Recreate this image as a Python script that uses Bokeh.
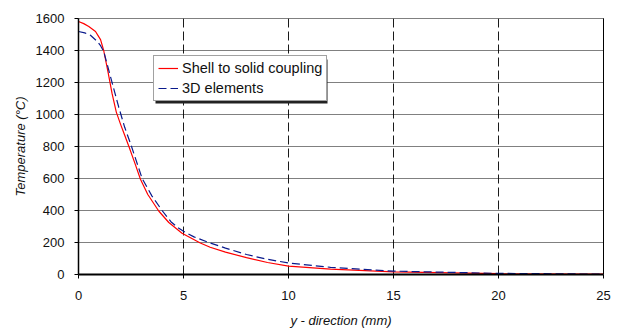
from bokeh.plotting import figure
from bokeh.models import (Legend, LegendItem, LinearAxis, FixedTicker,
                          BoxAnnotation, Range1d)
from bokeh.embed import file_html
from bokeh.resources import INLINE

# Temperature profile across the weld (y - direction, mm)
y_shell = [0, 0.25, 0.49, 0.81, 1.05, 1.2, 1.4, 1.6, 1.8, 2.0, 2.2, 2.4, 2.7,
           2.95, 3.3, 3.82, 4.3, 4.93, 5.8, 6.27, 7, 8, 9, 10, 12, 15, 20, 25]
t_shell = [1581, 1568, 1550, 1519, 1468, 1400, 1270, 1130, 1015, 940, 870, 800,
           690, 595, 500, 397, 325, 258, 197, 170, 140, 105, 75, 52, 33, 17, 5, 2]

y_3d = [0, 0.3, 0.57, 0.89, 1.05, 1.2, 1.6, 1.92, 2.2, 2.5, 3.03, 3.5, 3.98,
        4.4, 4.76, 5.0, 5.5, 6.27, 7, 8, 9, 10, 12, 15, 20, 25]
t_3d = [1519, 1510, 1495, 1457, 1430, 1395, 1199, 1044, 920, 810, 600, 490, 400,
        330, 290, 270, 235, 197, 165, 125, 95, 72, 45, 21, 7, 2]

x_ticks = [0, 5, 10, 15, 20, 25]
y_ticks = [0, 200, 400, 600, 800, 1000, 1200, 1400, 1600]

FONT = "Liberation Sans"

p = figure(frame_width=525, frame_height=256, min_border_left=78,
           min_border_right=21, min_border_top=18, min_border_bottom=55,
           x_range=Range1d(0, 25), y_range=Range1d(0, 1600),
           output_backend="svg", toolbar_location=None,
           background_fill_color="white", border_fill_color="white")
p.outline_line_color = None

# grid: dashed verticals, dotted horizontals
p.xgrid.ticker = FixedTicker(ticks=x_ticks)
p.ygrid.ticker = FixedTicker(ticks=y_ticks)
p.xgrid.grid_line_color = "#1a1a1a"
p.xgrid.grid_line_dash = "9 4"
p.xgrid.grid_line_width = 1
p.ygrid.grid_line_color = "black"
p.ygrid.grid_line_dash = "1 1"
p.ygrid.grid_line_width = 1.2

for ax in (p.xaxis[0], p.yaxis[0]):
    ax.major_label_text_font = FONT
    ax.major_label_text_font_size = "13px"
    ax.major_label_text_color = "#111111"
    ax.axis_label_text_font = FONT
    ax.axis_label_text_font_size = "13px"
    ax.axis_label_text_font_style = "italic"
    ax.axis_label_text_color = "#111111"
    ax.minor_tick_line_color = None
    ax.major_tick_in = 0
    ax.major_tick_out = 4
    ax.major_tick_line_color = "black"
    ax.axis_line_color = "black"

p.xaxis[0].ticker = FixedTicker(ticks=x_ticks)
p.yaxis[0].ticker = FixedTicker(ticks=y_ticks)
p.xaxis[0].axis_line_width = 2
p.yaxis[0].axis_line_width = 1.5
p.xaxis[0].axis_label = "y - direction (mm)"
p.yaxis[0].axis_label = "Temperature (°C)"
p.xaxis[0].major_label_standoff = 12
p.xaxis[0].axis_label_standoff = 10
p.yaxis[0].major_label_standoff = 10
p.yaxis[0].axis_label_standoff = 5


def bare_axis(dash):
    return LinearAxis(ticker=FixedTicker(ticks=[]), major_label_text_font_size="0px",
                      minor_tick_line_color=None, major_tick_line_color=None,
                      axis_line_color="black", axis_line_width=1,
                      axis_line_dash=dash)


# plain right border line, dotted top border
p.add_layout(bare_axis("solid"), "right")
p.add_layout(bare_axis("1 1"), "above")

r_shell = p.line(y_shell, t_shell, line_color="#ff0000", line_width=1.2)
r_3d = p.line(y_3d, t_3d, line_color="#0a1a8c", line_width=1.2,
              line_dash="8 4")

# legend drop shadow (screen units: x from frame left, y from frame bottom)
shadow = BoxAnnotation(left=77, right=249, top=215, bottom=171,
                       left_units="screen", right_units="screen",
                       top_units="screen", bottom_units="screen",
                       fill_color="#222222", fill_alpha=1, line_color=None)
p.add_layout(shadow)

legend = Legend(items=[LegendItem(label="Shell to solid coupling", renderers=[r_shell]),
                       LegendItem(label="3D elements", renderers=[r_3d])],
                location=(75, 173), label_text_font=FONT,
                label_text_font_size="14.5px", label_text_color="#111111",
                glyph_width=20, glyph_height=16, label_height=16,
                spacing=4, padding=4, margin=0, label_standoff=4,
                border_line_color="#444444", border_line_width=1,
                background_fill_color="white", background_fill_alpha=1)
p.add_layout(legend, "center")

open("out.html", "w").write(file_html(p, INLINE))
